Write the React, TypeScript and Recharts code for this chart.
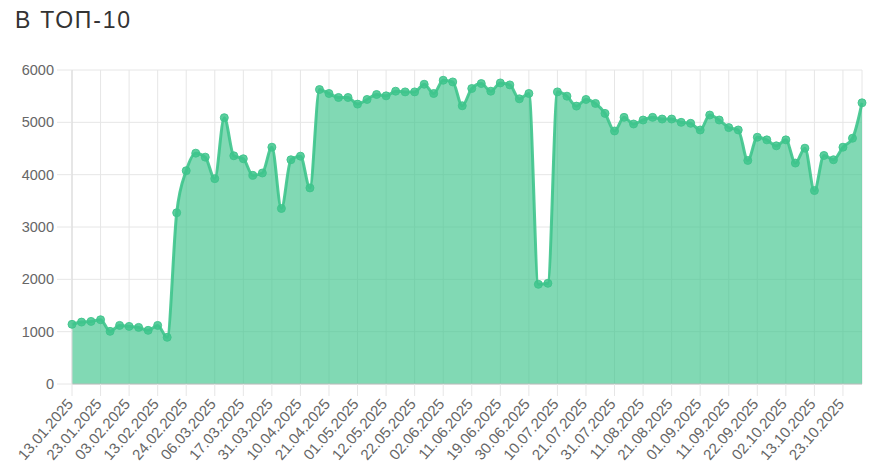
import { AreaChart, Area, XAxis, YAxis, CartesianGrid } from "recharts";

const dates = [
  "13.01.2025", "16.01.2025", "20.01.2025", "23.01.2025", "27.01.2025", "30.01.2025",
  "03.02.2025", "06.02.2025", "10.02.2025", "13.02.2025", "17.02.2025", "20.02.2025",
  "24.02.2025", "27.02.2025", "03.03.2025", "06.03.2025", "10.03.2025", "13.03.2025",
  "17.03.2025", "20.03.2025", "24.03.2025", "31.03.2025", "03.04.2025", "07.04.2025",
  "10.04.2025", "14.04.2025", "17.04.2025", "21.04.2025", "24.04.2025", "28.04.2025",
  "01.05.2025", "05.05.2025", "08.05.2025", "12.05.2025", "15.05.2025", "19.05.2025",
  "22.05.2025", "26.05.2025", "29.05.2025", "02.06.2025", "05.06.2025", "09.06.2025",
  "11.06.2025", "13.06.2025", "16.06.2025", "19.06.2025", "23.06.2025", "26.06.2025",
  "30.06.2025", "03.07.2025", "07.07.2025", "10.07.2025", "14.07.2025", "17.07.2025",
  "21.07.2025", "24.07.2025", "28.07.2025", "31.07.2025", "04.08.2025", "07.08.2025",
  "11.08.2025", "14.08.2025", "18.08.2025", "21.08.2025", "25.08.2025", "28.08.2025",
  "01.09.2025", "04.09.2025", "08.09.2025", "11.09.2025", "15.09.2025", "18.09.2025",
  "22.09.2025", "25.09.2025", "29.09.2025", "02.10.2025", "06.10.2025", "09.10.2025",
  "13.10.2025", "16.10.2025", "20.10.2025", "23.10.2025", "27.10.2025", "30.10.2025",
];

const top10 = [
  1140, 1183, 1196, 1228, 1006, 1120, 1101, 1082, 1025, 1120, 892, 3272,
  4076, 4411, 4335, 3924, 5089, 4361, 4304, 3987, 4032, 4525, 3354, 4285,
  4354, 3747, 5627, 5551, 5475, 5475, 5348, 5437, 5532, 5506, 5595, 5582,
  5582, 5728, 5551, 5804, 5772, 5316, 5646, 5741, 5595, 5753, 5715, 5449,
  5551, 1905, 1924, 5582, 5500, 5310, 5437, 5361, 5171, 4835, 5095, 4968,
  5044, 5095, 5063, 5063, 5000, 4981, 4854, 5139, 5044, 4899, 4854, 4272,
  4715, 4665, 4551, 4665, 4222, 4506, 3696, 4367, 4285, 4525, 4696, 5373,
];

const yTicks = [0, 1000, 2000, 3000, 4000, 5000, 6000];
const xTicks = dates.filter((_, i) => i % 3 === 0);

const chartData = dates.map((d, i) => ({ date: d, value: top10[i] }));

const GREEN = "#3ec48c";
const FONT = "'Liberation Sans', Arial, Helvetica, sans-serif";

// rotated date labels, like chart.js does it
function DateTick(props: any) {
  const { x, y, payload } = props;
  return (
    <g transform={`translate(${x - 2},${y + 3})`}>
      <text
        x={0}
        y={0}
        dy="0.35em"
        textAnchor="end"
        transform="rotate(-49)"
        fill="#666"
        fontSize={15}
        fontFamily={FONT}
      >
        {payload.value}
      </text>
    </g>
  );
}

export default function App() {
  return (
    <div style={{ position: "absolute", left: 0, top: 0, width: 870, height: 473, background: "#fff" }}>
      <div
        style={{
          position: "absolute",
          left: 15,
          top: 6,
          fontFamily: FONT,
          fontSize: 23,
          letterSpacing: 1.8,
          color: "#333",
          lineHeight: "28px",
        }}
      >
        В ТОП-10
      </div>
      <AreaChart
        width={870}
        height={473}
        data={chartData}
        margin={{ top: 70, right: 8, left: 0, bottom: 0 }}
      >
        <CartesianGrid stroke="#e6e6e6" />
        <XAxis
          dataKey="date"
          ticks={xTicks}
          interval={0}
          height={89}
          tickSize={12}
          tickMargin={2}
          tickLine={{ stroke: "#e6e6e6" }}
          axisLine={{ stroke: "#bfbfbf" }}
          tick={<DateTick />}
        />
        <YAxis
          domain={[0, 6000]}
          ticks={yTicks}
          width={72}
          tickSize={15}
          tickMargin={3}
          tickLine={{ stroke: "#e6e6e6" }}
          axisLine={{ stroke: "#d9d9d9" }}
          tick={{ fill: "#666", fontSize: 14.5, fontFamily: FONT }}
        />
        <Area
          type="monotone"
          dataKey="value"
          stroke={GREEN}
          strokeWidth={3}
          strokeOpacity={0.9}
          fill={GREEN}
          fillOpacity={0.65}
          dot={{ r: 4, fill: GREEN, fillOpacity: 0.85, stroke: GREEN, strokeWidth: 1 }}
          activeDot={false}
          isAnimationActive={false}
        />
      </AreaChart>
    </div>
  );
}
